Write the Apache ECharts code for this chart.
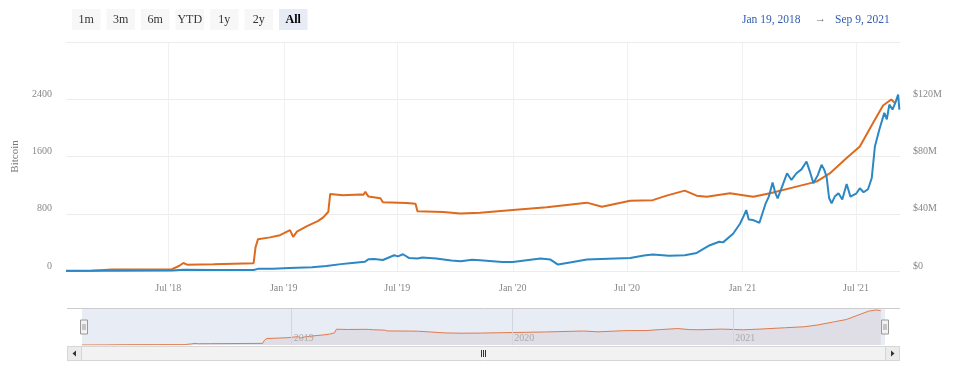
<!DOCTYPE html>
<html>
<head>
<meta charset="utf-8">
<script src="https://cdn.jsdelivr.net/npm/echarts@6/dist/echarts.min.js"></script>
<style>html,body{margin:0;background:#fff}#main{width:960px;height:378px}</style>
</head>
<body>
<div id="main"></div>
<script>
// holdings in BTC (orange, left axis)
const btcDates = ['2018-01-19','2018-03-01','2018-04-02','2018-05-15','2018-07-07','2018-07-18','2018-07-25','2018-07-31','2018-08-20','2018-09-11','2018-09-14','2018-11-14','2018-11-17','2018-11-21','2018-12-10','2018-12-26','2019-01-11','2019-01-13','2019-01-16','2019-01-22','2019-02-07','2019-02-25','2019-03-05','2019-03-13','2019-03-16','2019-04-05','2019-05-03','2019-05-08','2019-05-11','2019-05-16','2019-06-04','2019-06-08','2019-07-16','2019-07-30','2019-08-02','2019-09-12','2019-10-09','2019-11-10','2020-01-01','2020-02-24','2020-04-28','2020-05-22','2020-07-06','2020-08-11','2020-09-02','2020-10-01','2020-10-20','2020-11-05','2020-12-12','2021-01-18','2021-02-14','2021-03-28','2021-04-29','2021-05-20','2021-06-16','2021-07-07','2021-07-28','2021-08-13','2021-08-26','2021-09-02'];
const btcValues = [0,5,20,22,25,70,112,88,92,96,108,110,330,445,470,500,571,578,477,550,627,700,749,828,1077,1060,1070,1065,1105,1040,1016,960,950,940,834,825,805,815,852,890,955,898,983,990,1053,1123,1053,1039,1086,1039,1086,1179,1249,1364,1578,1741,2069,2312,2396,2340];

// value in USD millions (blue, right axis)
const usdDates = ['2018-01-19','2018-04-01','2018-07-07','2018-07-25','2018-09-14','2018-11-14','2018-11-21','2018-12-15','2019-01-10','2019-02-15','2019-03-10','2019-04-02','2019-04-20','2019-05-10','2019-05-16','2019-05-25','2019-06-08','2019-06-26','2019-07-02','2019-07-10','2019-07-20','2019-08-02','2019-08-10','2019-09-01','2019-09-25','2019-10-10','2019-10-28','2019-11-10','2019-12-15','2020-01-01','2020-02-14','2020-03-01','2020-03-13','2020-04-01','2020-04-28','2020-06-01','2020-07-06','2020-07-28','2020-08-11','2020-09-06','2020-10-01','2020-10-20','2020-11-10','2020-11-25','2020-12-01','2020-12-17','2020-12-28','2021-01-03','2021-01-07','2021-01-11','2021-01-18','2021-01-28','2021-02-07','2021-02-12','2021-02-18','2021-02-22','2021-02-26','2021-03-06','2021-03-13','2021-03-20','2021-03-28','2021-04-05','2021-04-13','2021-04-18','2021-04-24','2021-05-01','2021-05-07','2021-05-11','2021-05-15','2021-05-19','2021-05-23','2021-05-28','2021-06-03','2021-06-09','2021-06-16','2021-06-22','2021-07-01','2021-07-07','2021-07-13','2021-07-20','2021-07-26','2021-07-31','2021-08-07','2021-08-15','2021-08-19','2021-08-23','2021-08-28','2021-09-02','2021-09-06','2021-09-08'];
const usdValues = [0.2,0.2,0.3,0.8,0.7,0.7,1.5,1.6,2.1,2.6,3.5,4.8,5.6,6.4,8.2,8.4,7.7,11.0,10.2,11.7,9.0,8.7,9.5,8.8,7.4,6.8,7.8,7.5,6.3,6.3,8.7,8.0,4.5,6.0,8.0,8.6,9.1,10.8,11.5,10.6,11.0,12.6,18.0,20.4,20.0,26.0,33.0,38.5,42.6,36.0,35.6,33.7,47.3,52.0,61.8,55.0,50.8,60.0,68.3,63.6,68.3,71.0,76.5,70.0,61.3,67.0,74.2,71.0,66.0,51.0,47.3,52.0,54.3,50.0,60.8,51.9,54.0,57.8,55.0,57.1,65.0,87.0,98.7,110.5,106.0,116.3,112.8,118.0,123.3,112.8];

const rangeButtons = ['1m','3m','6m','YTD','1y','2y','All'];
const xMin = '2018-01-19';
const xMax = '2021-09-09';
const halfYearTicks = ['2018-07-01','2019-01-01','2019-07-01','2020-01-01','2020-07-01','2021-01-01','2021-07-01'];
const yearTicks = ['2019-01-01','2020-01-01','2021-01-01'];

const MONTHS = ['Jan','Feb','Mar','Apr','May','Jun','Jul','Aug','Sep','Oct','Nov','Dec'];
function ts(s) {
    const p = s.split('-').map(Number);
    return +new Date(p[0], p[1] - 1, p[2]);
}
function fmtDate(s) {
    const d = new Date(ts(s));
    return MONTHS[d.getMonth()] + ' ' + d.getDate() + ', ' + d.getFullYear();
}

const btcData = btcDates.map((d, i) => [ts(d), btcValues[i]]);
const usdData = usdDates.map((d, i) => [ts(d), usdValues[i]]);
const halfYearTs = halfYearTicks.map(ts);
const yearTs = yearTicks.map(ts);

// range selector buttons + date inputs + scrollbar (decoration)
let graphics = [];
rangeButtons.forEach((b, i) => {
    const sel = b === 'All';
    graphics.push({
        type: 'group', left: 72 + i * 34.5, top: 9,
        children: [
            { type: 'rect', shape: { x: 0, y: 0, width: 28.5, height: 21 }, style: { fill: sel ? '#e6ebf5' : '#f7f7f7' } },
            { type: 'text', x: 14.25, y: 10.5, style: { text: b, fill: sel ? '#000' : '#333', font: (sel ? 'bold ' : '') + '12px "Liberation Serif"', align: 'center', verticalAlign: 'middle' } }
        ]
    });
});
graphics.push(
    { type: 'text', x: 742, y: 19.5, style: { text: fmtDate(xMin), fill: '#335cad', font: '11.5px "Liberation Serif"', verticalAlign: 'middle' } },
    { type: 'text', x: 815, y: 19.5, style: { text: '\u2192', fill: '#666', font: '11px "Liberation Serif"', verticalAlign: 'middle' } },
    { type: 'text', x: 835, y: 19.5, style: { text: fmtDate(xMax), fill: '#335cad', font: '11.5px "Liberation Serif"', verticalAlign: 'middle' } },
    // navigator outline
    { type: 'line', shape: { x1: 67, y1: 308.5, x2: 900, y2: 308.5 }, style: { stroke: '#cccccc', lineWidth: 1 } },
    // scrollbar
    { type: 'rect', shape: { x: 67.5, y: 346.5, width: 832, height: 14 }, style: { fill: '#f2f2f2', stroke: '#d6d6d6' } },
    { type: 'rect', shape: { x: 67.5, y: 346.5, width: 14, height: 14 }, style: { fill: '#ebebeb', stroke: '#d6d6d6' } },
    { type: 'rect', shape: { x: 885.5, y: 346.5, width: 14, height: 14 }, style: { fill: '#ebebeb', stroke: '#d6d6d6' } },
    { type: 'polygon', shape: { points: [[76, 350.5], [76, 356.5], [72.5, 353.5]] }, style: { fill: '#333' } },
    { type: 'polygon', shape: { points: [[891, 350.5], [891, 356.5], [894.5, 353.5]] }, style: { fill: '#333' } },
    { type: 'line', shape: { x1: 481.5, y1: 350, x2: 481.5, y2: 357 }, style: { stroke: '#333' } },
    { type: 'line', shape: { x1: 483.5, y1: 350, x2: 483.5, y2: 357 }, style: { stroke: '#333' } },
    { type: 'line', shape: { x1: 485.5, y1: 350, x2: 485.5, y2: 357 }, style: { stroke: '#333' } }
);

let myChart = echarts.init(document.getElementById('main'));
myChart.setOption({
    animation: false,
    textStyle: { fontFamily: 'Liberation Serif' },
    grid: [
        { left: 66, right: 60, top: 42, height: 229 },
        { left: 82, right: 75, top: 309, height: 36, show: true, backgroundColor: '#e7ecf5', borderWidth: 0 }
    ],
    xAxis: [{
        type: 'value',
        gridIndex: 0,
        min: ts(xMin),
        max: ts(xMax),
        axisLine: { show: false },
        axisTick: { show: false, customValues: halfYearTs },
        axisLabel: {
            customValues: halfYearTs,
            color: '#888',
            fontSize: 10,
            margin: 12,
            formatter: v => {
                const d = new Date(v);
                return MONTHS[d.getMonth()] + " '" + String(d.getFullYear()).slice(2);
            }
        },
        splitLine: { show: true, lineStyle: { color: '#f0f0f0' } }
    }, {
        type: 'value',
        gridIndex: 1,
        z: 5,
        min: ts(xMin),
        max: ts(xMax),
        axisLine: { show: false },
        axisTick: { show: false, customValues: yearTs },
        axisLabel: {
            inside: true,
            customValues: yearTs,
            color: '#aaa',
            fontSize: 10,
            margin: 2,
            align: 'left',
            padding: [0, 0, 0, 2],
            formatter: v => String(new Date(v).getFullYear())
        },
        splitLine: { show: true, lineStyle: { color: '#d3d6de' } }
    }],
    yAxis: [{
        type: 'value',
        gridIndex: 0,
        min: 0,
        max: 3200,
        interval: 800,
        name: 'Bitcoin',
        nameLocation: 'middle',
        nameGap: 45,
        nameTextStyle: { color: '#777', fontSize: 11 },
        axisLine: { show: false },
        axisTick: { show: false },
        axisLabel: { color: '#888', fontSize: 10, margin: 14, showMaxLabel: false, verticalAlign: 'bottom', formatter: v => String(v) },
        splitLine: { lineStyle: { color: '#ececec' } }
    }, {
        type: 'value',
        gridIndex: 0,
        position: 'right',
        min: 0,
        max: 160,
        interval: 40,
        axisLine: { show: false },
        axisTick: { show: false },
        axisLabel: {
            color: '#888', fontSize: 10, margin: 13, showMaxLabel: false, verticalAlign: 'bottom',
            formatter: v => v === 0 ? '$0' : '$' + v + 'M'
        },
        splitLine: { show: false }
    }, {
        type: 'value',
        gridIndex: 1,
        min: 0,
        max: 2460,
        show: false
    }],
    dataZoom: [{
        type: 'slider',
        xAxisIndex: 0,
        filterMode: 'none',
        left: 82,
        right: 75,
        top: 309,
        height: 36,
        showDataShadow: false,
        showDetail: false,
        brushSelect: false,
        moveHandleSize: 0,
        backgroundColor: 'rgba(0,0,0,0)',
        borderColor: 'rgba(0,0,0,0)',
        fillerColor: 'rgba(0,0,0,0)',
        handleIcon: 'path://M0,0 L7,0 L7,14 L0,14 Z M2.5,4 L2.5,10 M4.5,4 L4.5,10',
        handleSize: 14,
        handleStyle: { color: '#f2f2f2', borderColor: '#999', borderWidth: 1 },
        emphasis: { handleStyle: { color: '#f2f2f2', borderColor: '#999' } }
    }],
    series: [{
        name: 'Bitcoin',
        type: 'line',
        xAxisIndex: 0,
        yAxisIndex: 0,
        data: btcData,
        showSymbol: false,
        lineStyle: { color: '#dd6a1f', width: 2 },
        itemStyle: { color: '#dd6a1f' }
    }, {
        name: 'USD',
        type: 'line',
        xAxisIndex: 0,
        yAxisIndex: 1,
        data: usdData,
        showSymbol: false,
        lineStyle: { color: '#2c87c5', width: 2 },
        itemStyle: { color: '#2c87c5' }
    }, {
        name: 'navigator',
        type: 'line',
        xAxisIndex: 1,
        yAxisIndex: 2,
        data: btcData,
        showSymbol: false,
        silent: true,
        lineStyle: { color: '#e07a4a', width: 1 },
        areaStyle: { color: '#dfdee6', opacity: 1 }
    }],
    graphic: graphics
});
</script>
</body>
</html>
